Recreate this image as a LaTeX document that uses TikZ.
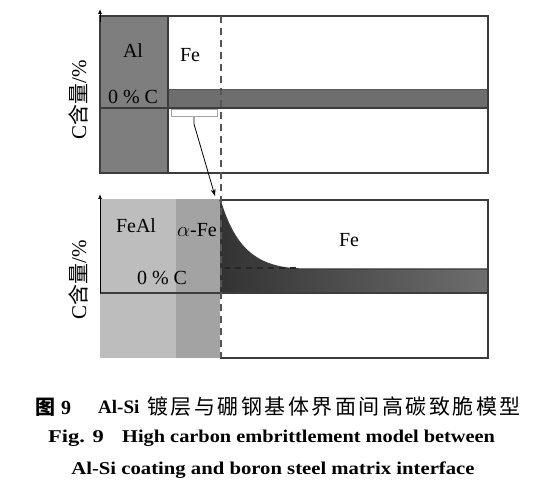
\documentclass[tikz,border=0pt]{standalone}
\usepackage{fontspec}
\setmainfont{Liberation Serif}
\newfontfamily\cjk{Noto Sans CJK SC}
\newfontfamily\cjkcap[LetterSpace=12]{Noto Sans CJK SC}
\usetikzlibrary{arrows.meta}
\definecolor{alg}{HTML}{7E7E7E}
\definecolor{bandg}{HTML}{6E6E6E}
\definecolor{frameg}{HTML}{3C3C3C}
\definecolor{fealg}{HTML}{BDBDBD}
\definecolor{afeg}{HTML}{A3A3A3}
\definecolor{dashg}{HTML}{555555}
\tikzset{
  frame/.style={draw=frameg, line width=1.4pt},
  thin frame/.style={draw=frameg, line width=0.8pt},
  axis/.style={draw=black, line width=0.8pt, -{Latex[length=5pt,width=4pt]}},
  dashline/.style={draw=dashg, line width=1.8pt, dash pattern=on 7pt off 5pt},
  lbl/.style={font=\fontsize{20}{20}\selectfont, inner sep=0pt},
  ylbl/.style={font=\fontsize{21}{21}\selectfont, inner sep=0pt, rotate=90},
  captxt/.style={inner sep=0pt, anchor=west}
}
\begin{document}
\begin{tikzpicture}[x=1pt,y=-1pt]
\useasboundingbox[fill=white] (0,0) rectangle (539,489);
% ---------- top panel ----------
\fill[alg] (100,16) rectangle (168,173);
\fill[bandg] (168,89) rectangle (488,108);
\draw[frame] (100,16) rectangle (488,173);
\draw[frame] (168,16) -- (168,173);
\draw[frame] (100,108) -- (488,108);
\draw[thin frame, draw=bandg!80!black] (168,89) -- (488,89);
\draw[axis] (100,22) -- (100,9);
% small bracket
\draw[draw=gray!70, line width=1pt, fill=white] (171,110) rectangle (217,117);
\coordinate (tickTop) at (194,117);
\coordinate (tickEnd) at (194,124);
\draw[draw=gray!70, line width=1.2pt] (tickTop) -- (tickEnd);
\node[lbl] (al) at (133,51) {Al};
\node[lbl] (fe1) at (190,55) {Fe};
\node[lbl] (zc1) at (133,97) {0 \% C};
\node[ylbl] (y1) at (78,100) {C{\cjk 含量}/\%};
% ---------- bottom panel ----------
\fill[fealg] (100,199) rectangle (176,358);
\fill[afeg] (176,199) rectangle (220,358);
\shade[left color=black!80, right color=bandg]
  (220,200) .. controls (233,243) and (252,268) .. (300,269)
  -- (488,269) -- (488,293) -- (220,293) -- cycle;
\draw[frame] (220,200) .. controls (233,243) and (252,268) .. (300,269) -- (488,269);
\draw[frame] (220,200) -- (488,200) -- (488,358) -- (220,358);
\draw[frame] (100,293) -- (488,293);
\draw[draw=black!85, line width=1.2pt, dash pattern=on 6pt off 5pt] (224,268) -- (298,268);
\draw[axis] (100,293) -- (100,194);
% dashed interface
\draw[dashline] (221,16) -- (221,358);
\node[lbl] (feal) at (136,226) {FeAl};
\node[lbl] (afe) at (197,230) {$\alpha$-Fe};
\node[lbl] (zc2) at (162,278) {0 \% C};
\node[lbl] (fe2) at (349,240) {Fe};
\node[ylbl] (y2) at (78,280) {C{\cjk 含量}/\%};
% arrow from bracket to interface
\coordinate (arrEnd) at (215,196);
\draw[line width=0.8pt, -{Stealth[length=7pt,width=5pt]}] (tickEnd) -- (arrEnd);
% ---------- caption ----------
\node[captxt, font=\fontsize{20}{20}\selectfont\bfseries] (c1a) at (35,407) {{\cjk 图}\hspace{6pt}9};
\node[captxt, font=\fontsize{19}{19}\selectfont\bfseries] (c1b) at (98,407) {Al-Si};
\node[captxt, font=\fontsize{21}{21}\selectfont] (c1c) at (147,407) {\cjkcap 镀层与硼钢基体界面间高碳致脆模型};
\node[captxt, font=\fontsize{18}{18}\selectfont\bfseries] (c2a) at (48,438) {\scalebox{1.25}[1]{Fig. 9}};
\node[captxt, font=\fontsize{18}{18}\selectfont\bfseries] (c2b) at (122,438) {\scalebox{1.13}[1]{High carbon embrittlement model between}};
\node[font=\fontsize{18}{18}\selectfont\bfseries, inner sep=0pt] (c3) at (273,470) {\scalebox{1.15}[1]{Al-Si coating and boron steel matrix interface}};
\end{tikzpicture}
\end{document}
